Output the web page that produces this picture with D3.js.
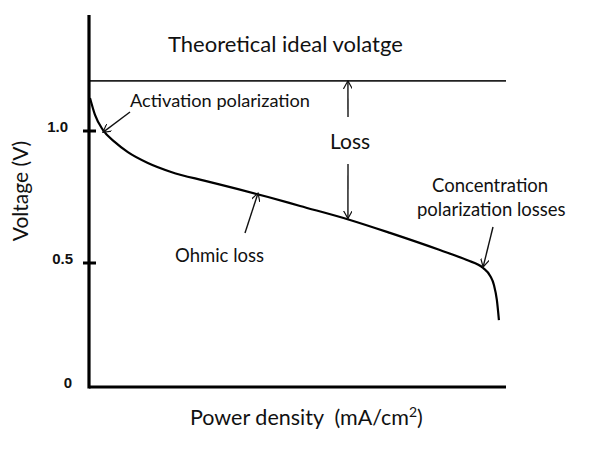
<!DOCTYPE html>
<html>
<head>
<meta charset="utf-8">
<script src="https://cdn.jsdelivr.net/npm/d3@7"></script>
<style>
  body { margin: 0; background: #fff; }
  svg { display: block; }
</style>
</head>
<body>
<svg id="vis"></svg>
<script>
// polarization curve (current in arbitrary mA/cm2 units, voltage in V)
const CURRENT = [0, 12, 31, 60, 91, 139, 195, 277, 356, 428, 505, 625, 721, 841, 906, 945, 962, 971, 978, 983];
const VOLTAGE = [1.125, 1.061, 1.004, 0.958, 0.92, 0.879, 0.845, 0.811, 0.78, 0.75, 0.716, 0.663, 0.614, 0.549, 0.511, 0.481, 0.451, 0.417, 0.36, 0.284];
const IDEAL_V = 1.19;
const TICK_VALUES = [0, 0.5, 1.0];
const TICK_LABELS = ["0", "0.5", "1.0"];

const WIDTH = 600;
const HEIGHT = 450;
const AXIS_X = 89;
const AXIS_Y = 387;
const CALIBRI = "Lato, 'Open Sans', sans-serif";

window.onload = function(){
    drawChart();
};

function drawChart(){

    let xScale = d3.scaleLinear()
        .domain([0, 1000])
        .range([90, 506]);

    let yScale = d3.scaleLinear()
        .domain([0, 1])
        .range([395, 131]);

    let svg = d3.select("#vis")
        .attr("width", WIDTH)
        .attr("height", HEIGHT);

    // arrow head
    svg.append("defs").append("marker")
        .attr("id", "arr")
        .attr("viewBox", "0 0 10 10")
        .attr("refX", 9)
        .attr("refY", 5)
        .attr("markerWidth", 9)
        .attr("markerHeight", 9)
        .attr("markerUnits", "userSpaceOnUse")
        .attr("orient", "auto")
        .append("path")
        .attr("d", "M0,0 L9,5 L0,10")
        .attr("fill", "none")
        .attr("stroke", "#111")
        .attr("stroke-width", 1.3);

    // theoretical ideal voltage
    svg.append("line")
        .attr("x1", AXIS_X)
        .attr("x2", 506)
        .attr("y1", yScale(IDEAL_V))
        .attr("y2", yScale(IDEAL_V))
        .attr("stroke", "#222")
        .attr("stroke-width", 1.6);

    // curve
    let data = CURRENT.map(function(c, i){ return {x: c, y: VOLTAGE[i]}; });
    let line = d3.line()
        .x(function(d){ return xScale(d.x); })
        .y(function(d){ return yScale(d.y); })
        .curve(d3.curveMonotoneX);

    svg.append("path")
        .datum(data)
        .attr("d", line)
        .attr("fill", "none")
        .attr("stroke", "#000")
        .attr("stroke-width", 2.2);

    // axes
    svg.append("line")
        .attr("x1", AXIS_X).attr("x2", AXIS_X)
        .attr("y1", 15).attr("y2", AXIS_Y + 1.5)
        .attr("stroke", "#000").attr("stroke-width", 3.2);
    svg.append("line")
        .attr("x1", AXIS_X).attr("x2", 506)
        .attr("y1", AXIS_Y).attr("y2", AXIS_Y)
        .attr("stroke", "#000").attr("stroke-width", 3.2);

    svg.selectAll("line.tick")
        .data(TICK_VALUES.filter(function(v){ return v > 0; }))
        .enter()
        .append("line")
        .attr("class", "tick")
        .attr("x1", AXIS_X - 6).attr("x2", AXIS_X + 7)
        .attr("y1", function(d){ return yScale(d); })
        .attr("y2", function(d){ return yScale(d); })
        .attr("stroke", "#000").attr("stroke-width", 3);

    svg.selectAll("text.tl")
        .data(TICK_VALUES)
        .enter()
        .append("text")
        .attr("class", "tl")
        .text(function(d, i){ return TICK_LABELS[i]; })
        .attr("x", function(d){ return d == 0 ? 72 : (d == 0.5 ? 73 : 68); })
        .attr("y", function(d){ return Math.min(yScale(d), AXIS_Y) - 3; })
        .attr("font-family", "'Liberation Sans', Arial, sans-serif")
        .attr("font-weight", "bold")
        .attr("font-size", "15px")
        .attr("fill", "#111")
        .style("text-anchor", "end")
        .style("dominant-baseline", "middle");

    // axis titles
    svg.append("text")
        .text("Voltage (V)")
        .attr("transform", "translate(28,191) rotate(-90)")
        .attr("font-family", CALIBRI)
        .attr("font-size", "21px")
        .attr("fill", "#111")
        .style("text-anchor", "middle");

    let xt = svg.append("text")
        .attr("x", 190)
        .attr("y", 425)
        .attr("font-family", CALIBRI)
        .attr("font-size", "21.5px")
        .attr("fill", "#111")
        .style("white-space", "pre");
    xt.append("tspan").text("Power density  (mA/cm");
    xt.append("tspan").text("2").attr("font-size", "14px").attr("dy", -8);
    xt.append("tspan").text(")").attr("dy", 8);

    // labels
    let labels = [
        {t: "Theoretical ideal volatge", x: 168, y: 52, s: 22},
        {t: "Activation polarization", x: 130, y: 107, s: 18.2},
        {t: "Loss", x: 330, y: 149, s: 21},
        {t: "Concentration", x: 432, y: 192, s: 18.5},
        {t: "polarization losses", x: 417, y: 216, s: 18.5},
        {t: "Ohmic loss", x: 175, y: 262, s: 18.5}
    ];
    svg.selectAll("text.lab")
        .data(labels)
        .enter()
        .append("text")
        .attr("class", "lab")
        .text(function(d){ return d.t; })
        .attr("x", function(d){ return d.x; })
        .attr("y", function(d){ return d.y; })
        .attr("font-family", CALIBRI)
        .attr("font-size", function(d){ return d.s + "px"; })
        .attr("fill", "#111");

    // annotation arrows, heads sit on the data
    let arrows = [
        {x0: 130, y0: 112, hx: 31, hy: 0.995},
        {x0: 348, y0: 117, hx: 620, hy: IDEAL_V},
        {x0: 348, y0: 164, hx: 620, hy: 0.668},
        {x0: 245, y0: 233, hx: 404, hy: 0.765},
        {x0: 493, y0: 227, hx: 945, hy: 0.485}
    ];
    svg.selectAll("line.arrow")
        .data(arrows)
        .enter()
        .append("line")
        .attr("class", "arrow")
        .attr("x1", function(d){ return d.x0; })
        .attr("y1", function(d){ return d.y0; })
        .attr("x2", function(d){ return xScale(d.hx); })
        .attr("y2", function(d){ return yScale(d.hy); })
        .attr("stroke", "#111")
        .attr("stroke-width", 1.4)
        .attr("marker-end", "url(#arr)");
}
</script>
</body>
</html>
